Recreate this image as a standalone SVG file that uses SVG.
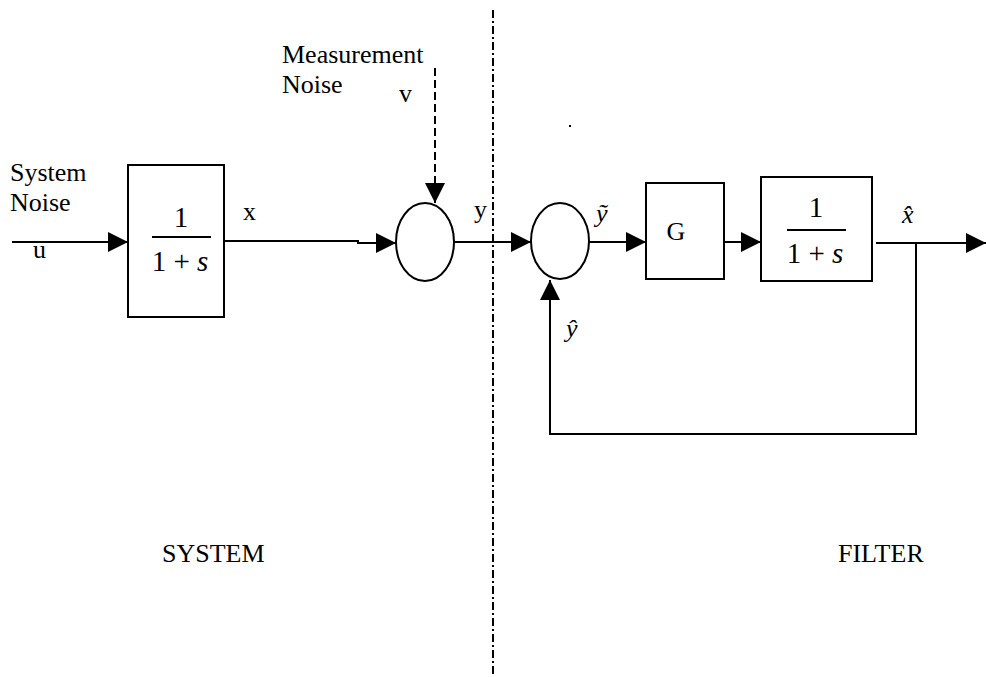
<svg xmlns="http://www.w3.org/2000/svg" width="986" height="677" viewBox="0 0 986 677">
<style>
text{font-family:"Liberation Serif","Times New Roman",serif;font-size:26px;fill:#000}
.i{font-style:italic}
.f{font-size:29px}
.ln{fill:none;stroke:#000;stroke-width:2}
.bx{fill:#fff;stroke:#000;stroke-width:2}
</style>
<defs>
<marker id="ah" viewBox="0 0 20 20" refX="20" refY="10" markerWidth="20" markerHeight="20" markerUnits="userSpaceOnUse" orient="auto">
<path d="M0,0 L20,10 L0,20 Z" fill="#000"/>
</marker>
</defs>
<rect width="986" height="677" fill="#fff"/>
<g id="connectors">
<line class="ln" x1="12" y1="242" x2="128" y2="242" marker-end="url(#ah)"/>
<polyline class="ln" points="224,241 358,241 358,243 396,243" marker-end="url(#ah)"/>
<line class="ln" x1="435" y1="68" x2="435" y2="203" stroke-dasharray="8 4" marker-end="url(#ah)"/>
<line class="ln" x1="454" y1="242" x2="531" y2="242" marker-end="url(#ah)"/>
<line class="ln" x1="589" y1="242" x2="646" y2="242" marker-end="url(#ah)"/>
<line class="ln" x1="724" y1="242" x2="761" y2="242" marker-end="url(#ah)"/>
<line class="ln" x1="876" y1="243" x2="986" y2="243" marker-end="url(#ah)"/>
<polyline class="ln" points="916,243 916,434 550,434 550,280" marker-end="url(#ah)"/>
</g>
<g id="divider">
<line x1="493" y1="10" x2="493" y2="677" stroke="#000" stroke-width="2" stroke-dasharray="8 3 2 3"/>
</g>
<g id="sys-block">
<rect class="bx" x="128" y="165" width="96" height="152"/>
<text class="f" x="181" y="227" text-anchor="middle">1</text>
<line class="ln" x1="152" y1="237" x2="211" y2="237"/>
<text class="f" x="180" y="271" text-anchor="middle">1 + <tspan class="i">s</tspan></text>
</g>
<g id="sum1">
<ellipse class="bx" cx="425" cy="242" rx="29" ry="39"/>
</g>
<g id="sum2">
<ellipse class="bx" cx="560" cy="241" rx="29" ry="38"/>
</g>
<g id="gain">
<rect class="bx" x="646" y="183" width="78" height="96"/>
<text x="676" y="240" text-anchor="middle">G</text>
</g>
<g id="filt-block">
<rect class="bx" x="761" y="177" width="111" height="104"/>
<text class="f" x="816" y="217" text-anchor="middle">1</text>
<line class="ln" x1="787" y1="230" x2="846" y2="230"/>
<text class="f" x="815" y="263" text-anchor="middle">1 + <tspan class="i">s</tspan></text>
</g>
<g id="labels">
<text x="10" y="181">System</text>
<text x="10" y="211">Noise</text>
<text x="33" y="258">u</text>
<text x="243" y="220">x</text>
<text x="282" y="63">Measurement</text>
<text x="282" y="93">Noise</text>
<text x="399" y="102">v</text>
<text x="474" y="218">y</text>
<text class="i" x="596" y="222">ỹ</text>
<text class="i" x="566" y="337">ŷ</text>
<text class="i" x="902" y="223">x̂</text>
<text x="162" y="562">SYSTEM</text>
<text x="838" y="562">FILTER</text>
<rect x="569" y="125" width="2" height="2" fill="#000"/>
</g>
</svg>
